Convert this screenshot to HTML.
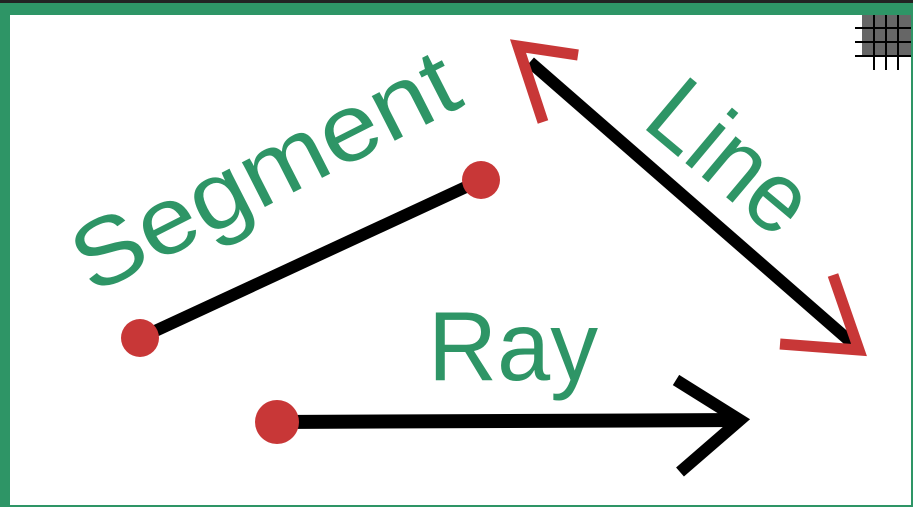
<!DOCTYPE html>
<html><head><style>
html,body{margin:0;padding:0;background:#fff;}
svg{display:block;}
text{font-family:"Liberation Sans",sans-serif;fill:#2e9566;}
</style></head><body>
<svg width="913" height="507" viewBox="0 0 913 507" xmlns="http://www.w3.org/2000/svg">
<rect x="0" y="0" width="913" height="507" fill="#2e9566"/>
<rect x="0" y="0" width="913" height="3" fill="#222"/>
<rect x="10" y="15" width="901" height="490" fill="#fff"/>
<g>
<rect x="862" y="15" width="49" height="42" fill="#666"/>
<g stroke="#000" stroke-width="2">
<line x1="855" y1="28" x2="911" y2="28"/>
<line x1="855" y1="42" x2="911" y2="42"/>
<line x1="855" y1="56" x2="911" y2="56"/>
<line x1="874" y1="15" x2="874" y2="70"/>
<line x1="886" y1="15" x2="886" y2="70"/>
<line x1="898" y1="15" x2="898" y2="70"/>
</g>
</g>
<line x1="140" y1="338" x2="481" y2="180" stroke="#000" stroke-width="12"/>
<circle cx="140" cy="338" r="19" fill="#c83737"/>
<circle cx="481" cy="180" r="19" fill="#c83737"/>
<text x="0" y="0" font-size="95" textLength="420" lengthAdjust="spacingAndGlyphs" transform="translate(92,295) rotate(-27)">Segment</text>
<line x1="530" y1="62" x2="852" y2="343" stroke="#000" stroke-width="12"/>
<polyline points="578,55 518,46 543,122" fill="none" stroke="#c83737" stroke-width="11"/>
<polyline points="780,344 859,350 833,275" fill="none" stroke="#c83737" stroke-width="11"/>
<text x="0" y="0" font-size="100" textLength="180" lengthAdjust="spacingAndGlyphs" transform="translate(640,125) rotate(40)">Line</text>
<line x1="277" y1="422" x2="740" y2="420" stroke="#000" stroke-width="14"/>
<polyline points="676,380 740,420 680,472" fill="none" stroke="#000" stroke-width="12"/>
<circle cx="277" cy="422" r="22" fill="#c83737"/>
<text x="428" y="380" font-size="98" textLength="170" lengthAdjust="spacingAndGlyphs">Ray</text>
</svg>
</body></html>
